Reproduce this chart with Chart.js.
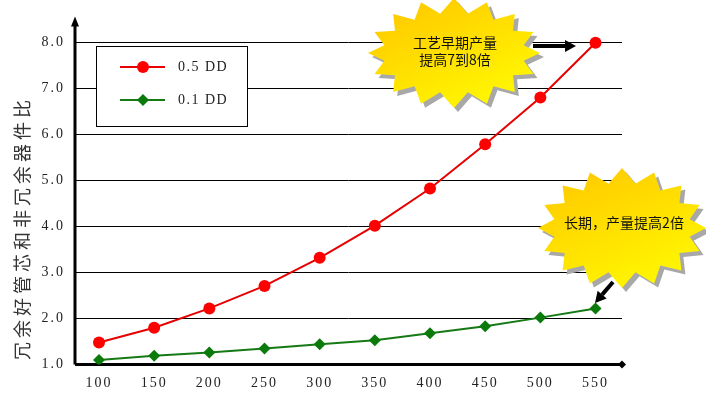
<!DOCTYPE html>
<html><head><meta charset="utf-8">
<script src="https://cdn.jsdelivr.net/npm/chart.js@4/dist/chart.umd.min.js"></script>
<style>html,body{margin:0;padding:0;background:#fff}#wrap{width:706px;height:396px}</style>
</head><body><div id="wrap"><canvas id="c" width="706" height="396"></canvas></div>
<script>
const xLabels = [100,150,200,250,300,350,400,450,500,550];
const yTicks = [1,2,3,4,5,6,7,8];
const red05 = [1.48,1.80,2.22,2.71,3.32,4.02,4.83,5.79,6.81,8.0];
const green01 = [1.10,1.19,1.26,1.35,1.44,1.53,1.68,1.83,2.02,2.22];
const seriesNames = ['0.5 DD','0.1 DD'];
const yTitle = '冗余好管芯和非冗余器件比';
const note1 = ['工艺早期产量','提高7到8倍'];
const note2 = '长期，产量提高2倍';

const SERIF = '"Liberation Serif","DejaVu Serif","Noto Sans CJK SC",serif';

function starPath(ctx,cx,cy,rx,ry,n,d){
  ctx.beginPath();
  for(let i=0;i<2*n;i++){
    const a = -Math.PI/2 + i*Math.PI/n;
    const r = i%2===0 ? 0 : d;
    const x = cx + (rx-r)*Math.cos(a), y = cy + (ry-r)*Math.sin(a);
    if(i===0) ctx.moveTo(x,y); else ctx.lineTo(x,y);
  }
  ctx.closePath();
}
function star(ctx,cx,cy,rx,ry,n,d){
  ctx.save();
  starPath(ctx,cx+4,cy+4,rx,ry,n,d);
  ctx.fillStyle='#a8a8a8'; ctx.fill();
  starPath(ctx,cx,cy,rx,ry,n,d);
  const g=ctx.createLinearGradient(cx-rx*0.3,cy-ry,cx+rx*0.3,cy+ry);
  g.addColorStop(0,'#ffcc00'); g.addColorStop(1,'#fff700');
  ctx.fillStyle=g; ctx.fill();
  ctx.restore();
}
function arrow(ctx,x1,y1,x2,y2){
  const a=Math.atan2(y2-y1,x2-x1), h=11, w=6;
  const bx=x2-h*Math.cos(a), by=y2-h*Math.sin(a);
  ctx.save();
  ctx.strokeStyle='#000'; ctx.lineWidth=4;
  ctx.beginPath(); ctx.moveTo(x1,y1); ctx.lineTo(bx,by); ctx.stroke();
  ctx.fillStyle='#000'; ctx.beginPath();
  ctx.moveTo(x2,y2);
  ctx.lineTo(bx+w*Math.sin(a),by-w*Math.cos(a));
  ctx.lineTo(bx-w*Math.sin(a),by+w*Math.cos(a));
  ctx.closePath(); ctx.fill();
  ctx.restore();
}

const decor = {
  id:'decor',
  beforeDraw(chart){ chart.ctx.letterSpacing='2px'; },
  beforeDatasetsDraw(chart){
    const ctx=chart.ctx, a=chart.chartArea;
    ctx.save();
    ctx.letterSpacing='0px';
    // axes
    ctx.strokeStyle='#000'; ctx.lineWidth=3;
    ctx.beginPath(); ctx.moveTo(a.left,a.bottom); ctx.lineTo(a.right,a.bottom); ctx.stroke();
    ctx.beginPath(); ctx.moveTo(a.left,a.bottom); ctx.lineTo(a.left,a.top+6); ctx.stroke();
    ctx.fillStyle='#000';
    ctx.beginPath(); ctx.moveTo(a.left,a.top-2); ctx.lineTo(a.left-4,a.top+8); ctx.lineTo(a.left+4,a.top+8); ctx.closePath(); ctx.fill();
    ctx.beginPath(); ctx.moveTo(a.right+4,a.bottom); ctx.lineTo(a.right,a.bottom-4); ctx.lineTo(a.right-4,a.bottom); ctx.lineTo(a.right,a.bottom+4); ctx.closePath(); ctx.fill();
    // legend box
    ctx.fillStyle='#fff'; ctx.fillRect(96,46,151,81);
    ctx.strokeStyle='#000'; ctx.lineWidth=1; ctx.strokeRect(96.5,46.5,151,80);
    const ys=[67,100];
    chart.data.datasets.forEach((ds,i)=>{
      const y=ys[i];
      ctx.strokeStyle=ds.borderColor; ctx.lineWidth=2;
      ctx.beginPath(); ctx.moveTo(120,y); ctx.lineTo(165,y); ctx.stroke();
      ctx.fillStyle=ds.backgroundColor;
      ctx.beginPath();
      if(i===0){ ctx.arc(143,y,6,0,Math.PI*2); }
      else { ctx.moveTo(143,y-6); ctx.lineTo(149,y); ctx.lineTo(143,y+6); ctx.lineTo(137,y); ctx.closePath(); }
      ctx.fill();
      ctx.fillStyle='#222'; ctx.font='14px '+SERIF; ctx.textBaseline='middle'; ctx.textAlign='left';
      ctx.letterSpacing='1.5px';
      ctx.fillText(ds.label,178,y);
      ctx.letterSpacing='0px';
    });
    // y title
    ctx.save();
    ctx.translate(22,230); ctx.rotate(-Math.PI/2);
    ctx.fillStyle='#333'; ctx.font='18px "Noto Sans CJK SC"'; ctx.textAlign='center'; ctx.textBaseline='middle';
    ctx.letterSpacing='4px';
    ctx.fillText(yTitle,2,0);
    ctx.restore();
    ctx.restore();
  },
  afterDraw(chart){
    const ctx=chart.ctx;
    ctx.letterSpacing='0px';
    star(ctx,454,53,86,55,16,15);
    star(ctx,622,228,84,60,16,15);
    ctx.save();
    ctx.fillStyle='#111'; ctx.textAlign='center'; ctx.textBaseline='middle';
    ctx.font='14px "Noto Sans CJK SC"';
    ctx.fillText(note1[0],455,43);
    ctx.fillText(note1[1],455,60);
    ctx.fillText(note2,624,223);
    ctx.restore();
    arrow(ctx,533,46,576,46);
    arrow(ctx,613,282,595,303);
  }
};

new Chart(document.getElementById('c'),{
  type:'line',
  data:{
    datasets:[
      {label:seriesNames[0],data:xLabels.map((x,i)=>({x,y:red05[i]})),borderColor:'#e60000',backgroundColor:'#ff0000',borderWidth:2,pointStyle:'circle',pointRadius:6,pointBorderWidth:0,tension:0},
      {label:seriesNames[1],data:xLabels.map((x,i)=>({x,y:green01[i]})),borderColor:'#157a15',backgroundColor:'#0a7a0a',borderWidth:2,pointStyle:'rectRot',pointRadius:6,pointBorderWidth:0,tension:0}
    ]
  },
  options:{
    responsive:false,animation:false,
    layout:{padding:{top:15,right:84,bottom:0,left:0}},
    plugins:{legend:{display:false},tooltip:{enabled:false}},
    scales:{
      x:{type:'linear',min:78.25,max:574,
        afterBuildTicks(ax){ax.ticks=xLabels.map(v=>({value:v}));},
        afterFit(ax){ax.height=31.5;},
        grid:{display:false,drawTicks:false},border:{display:false},
        ticks:{padding:10,color:'#222',font:{family:SERIF,size:14},autoSkip:false,maxRotation:0}
      },
      y:{min:1,max:8.53,
        afterBuildTicks(ax){ax.ticks=yTicks.map(v=>({value:v}));},
        afterFit(ax){ax.width=75;},
        grid:{color:'#000',lineWidth:1,drawTicks:false},border:{display:false},
        ticks:{padding:10,color:'#222',font:{family:SERIF,size:14},callback:v=>Number(v).toFixed(1)}
      }
    }
  },
  plugins:[decor]
});
</script></body></html>
